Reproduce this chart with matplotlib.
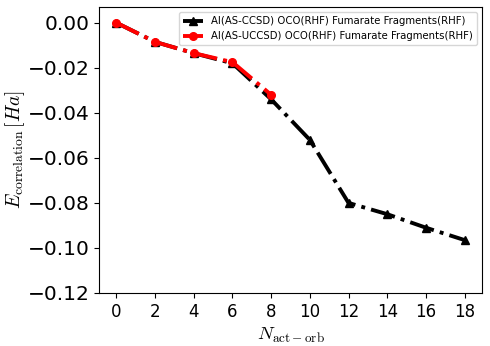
import matplotlib
matplotlib.use("Agg")
import matplotlib.pyplot as plt

plt.rcParams["mathtext.fontset"] = "cm"

n_ccsd = [0, 2, 4, 6, 8, 10, 12, 14, 16, 18]
e_ccsd = [0.0, -0.0085, -0.0135, -0.018, -0.034, -0.052, -0.080, -0.085, -0.091, -0.0965]
n_uccsd = [0, 2, 4, 6, 8]
e_uccsd = [0.0, -0.0085, -0.0135, -0.0175, -0.032]
xticks = list(range(0, 19, 2))

fig = plt.figure(figsize=(4.9, 3.46), dpi=100)
ax = fig.add_axes([99/490, 1-293/346, (482-99)/490, (293-7)/346])
ax.plot(n_ccsd, e_ccsd, color="black", linestyle="-.", linewidth=2.8, marker="^",
        markersize=5.5, label="AI(AS-CCSD) OCO(RHF) Fumarate Fragments(RHF)")
ax.plot(n_uccsd, e_uccsd, color="red", linestyle="-.", linewidth=2.8, marker="o",
        markersize=5.5, label="AI(AS-UCCSD) OCO(RHF) Fumarate Fragments(RHF)")
ax.set_xlim(-0.9, 18.9)
ax.set_ylim(-0.12, 0.007)
ax.set_xticks(xticks)
ax.set_yticks([0.0, -0.02, -0.04, -0.06, -0.08, -0.10, -0.12])
ax.tick_params(axis="y", labelsize=14.5)
ax.tick_params(axis="x", labelsize=12)
ax.set_xlabel(r"$N_{\rm act-orb}$", fontsize=13.5)
ax.set_ylabel(r"$E_{\rm correlation}\,[Ha]$", fontsize=14)
ax.yaxis.set_label_coords(-0.187, 0.5)
ax.legend(loc="upper right", fontsize=7.3)
fig.savefig("out.png", dpi=100)
